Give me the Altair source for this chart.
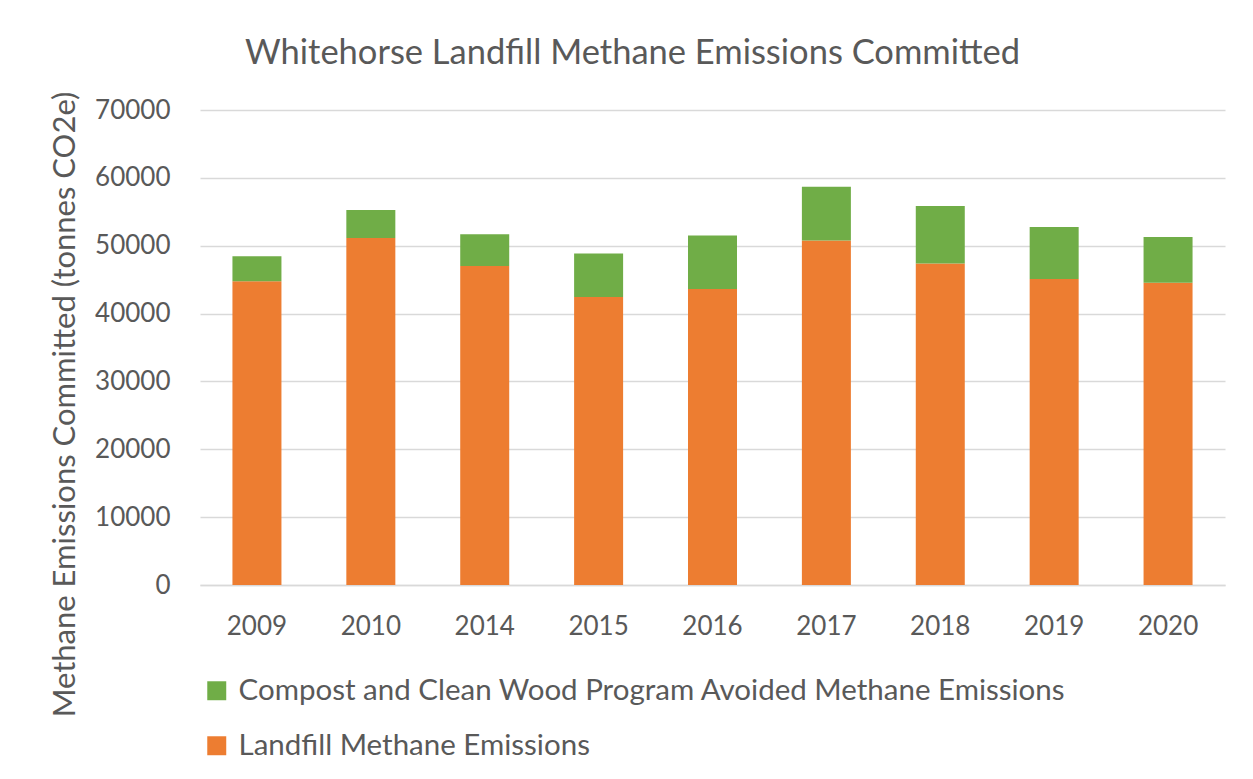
import altair as alt
import pandas as pd

years = ["2009", "2010", "2014", "2015", "2016", "2017", "2018", "2019", "2020"]
landfill = [44750, 51140, 47000, 42450, 43620, 50760, 47390, 45090, 44550]
compost = [3710, 4110, 4690, 6410, 7880, 7920, 8450, 7670, 6740]

s_compost = "Compost and Clean Wood Program Avoided Methane Emissions"
s_landfill = "Landfill Methane Emissions"

rows = []
for y, l, c in zip(years, landfill, compost):
    rows.append({"year": y, "series": s_landfill, "value": l, "ord": 0})
    rows.append({"year": y, "series": s_compost, "value": c, "ord": 1})
df = pd.DataFrame(rows)

FONT = "Lato"
TXT = "#595959"

chart = alt.Chart(df).mark_bar(size=49).encode(
    x=alt.X("year:N", sort=years, title=None,
            scale=alt.Scale(paddingInner=0.57, paddingOuter=0.285),
            axis=alt.Axis(labelAngle=0, labelFontSize=26, labelPadding=28, ticks=False,
                          domainColor="#d9d9d9", domainWidth=1.5, labelColor=TXT, labelFont=FONT)),
    y=alt.Y("value:Q", stack="zero", title="Methane Emissions Committed (tonnes CO2e)",
            scale=alt.Scale(domain=[0, 70000]),
            axis=alt.Axis(values=list(range(0, 70001, 10000)), format="d", ticks=False, domain=False,
                          gridColor="#d9d9d9", gridWidth=1.5, labelFontSize=26, labelPadding=30,
                          labelColor=TXT, labelFont=FONT, titleFont=FONT, titleFontSize=31,
                          titleFontWeight="normal", titleColor=TXT, titleX=-135, titleY=294,
                          titleAlign="center", titleBaseline="middle", titleAngle=270)),
    color=alt.Color("series:N", sort=[s_compost, s_landfill],
                    scale=alt.Scale(domain=[s_compost, s_landfill], range=["#70ad47", "#ed7d31"]),
                    legend=alt.Legend(title=None, orient="none", legendX=2, legendY=566,
                                      direction="vertical", symbolType="square", symbolSize=360,
                                      symbolStrokeWidth=0, labelFontSize=29.5, labelFont=FONT,
                                      labelColor=TXT, rowPadding=24, labelOffset=7,
                                      labelLimit=1000)),
    order=alt.Order("ord:Q"),
).properties(
    width=1025, height=475,
    title=alt.TitleParams("Whitehorse Landfill Methane Emissions Committed", fontSize=34.5,
                          font=FONT, fontWeight="normal", color=TXT, anchor="middle",
                          dx=-80, offset=20),
    autosize=alt.AutoSizeParams(type="none"),
    padding={"left": 192, "top": 102, "right": 20, "bottom": 186},
).configure_view(stroke=None)

chart.save("out.html", embed_options={"renderer": "svg", "actions": False})
